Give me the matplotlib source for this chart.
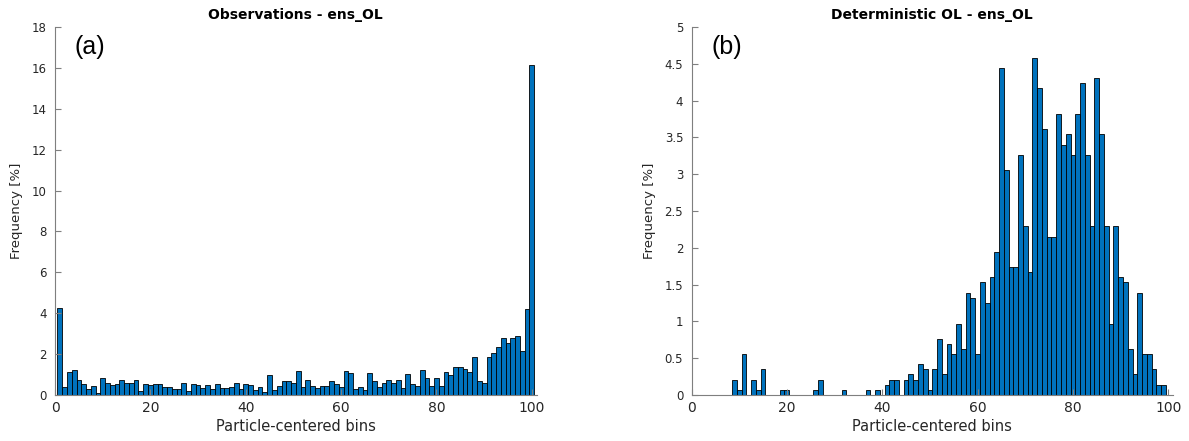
import numpy as np
import matplotlib
matplotlib.use('Agg')
import matplotlib.pyplot as plt

# bin index (1..100)
bins = np.arange(1, 101)

# Observations - ens_OL, frequency [%]
obs_freq = [4.24, 0.41, 1.14, 1.22, 0.73, 0.54, 0.28, 0.46, 0.11, 0.82,
            0.60, 0.47, 0.54, 0.73, 0.60, 0.60, 0.73, 0.18, 0.54, 0.47,
            0.54, 0.54, 0.41, 0.41, 0.28, 0.28, 0.60, 0.18, 0.54, 0.47,
            0.34, 0.47, 0.28, 0.54, 0.34, 0.34, 0.41, 0.59, 0.28, 0.54,
            0.47, 0.24, 0.41, 0.16, 0.96, 0.24, 0.44, 0.67, 0.67, 0.59,
            1.16, 0.41, 0.73, 0.44, 0.33, 0.44, 0.44, 0.67, 0.54, 0.41,
            1.16, 1.09, 0.31, 0.41, 0.24, 1.09, 0.67, 0.41, 0.57, 0.73,
            0.59, 0.73, 0.33, 1.01, 0.52, 0.44, 1.24, 0.82, 0.44, 0.82,
            0.44, 1.14, 0.96, 1.35, 1.35, 1.27, 1.14, 1.84, 0.67, 0.57,
            1.84, 2.07, 2.33, 2.81, 2.56, 2.81, 2.89, 2.17, 4.19, 16.15]

# Deterministic OL - ens_OL, frequency [%]
det_freq = [0, 0, 0, 0, 0, 0, 0, 0, 0.21, 0.07,
            0.56, 0, 0.21, 0.07, 0.35, 0, 0, 0, 0.07, 0.07,
            0, 0, 0, 0, 0, 0.07, 0.21, 0, 0, 0,
            0, 0.07, 0, 0, 0, 0, 0.07, 0, 0.07, 0,
            0.14, 0.21, 0.21, 0, 0.21, 0.28, 0.21, 0.42, 0.35, 0.07,
            0.35, 0.76, 0.28, 0.69, 0.56, 0.97, 0.62, 1.39, 1.32, 0.56,
            1.53, 1.25, 1.60, 1.94, 4.44, 3.06, 1.74, 1.74, 3.26, 2.29,
            1.67, 4.58, 4.17, 3.61, 2.15, 2.15, 3.82, 3.40, 3.54, 3.26,
            3.82, 4.24, 3.26, 2.29, 4.31, 3.54, 2.29, 0.97, 2.29, 1.60,
            1.53, 0.62, 0.28, 1.39, 0.56, 0.56, 0.35, 0.14, 0.14, 0]

titles = ['Observations - ens_OL', 'Deterministic OL - ens_OL']
panel_tags = ['(a)', '(b)']
ylims = [18, 5]
ysteps = [2, 0.5]

axcol = '#7f7f7f'
txtcol = '#262626'

fig = plt.figure(figsize=(11.89, 4.41), dpi=100)
positions = [[0.0463, 0.1043, 0.405, 0.8345],
             [0.5816, 0.1043, 0.405, 0.8345]]

for i, freq in enumerate([obs_freq, det_freq]):
    ax = fig.add_axes(positions[i])
    ax.bar(bins, freq, width=1.0, color='#0072BD', edgecolor='black', linewidth=0.6)
    ax.set_xlim(0, 101)
    ax.set_ylim(0, ylims[i])
    ax.set_xticks([0, 20, 40, 60, 80, 100])
    ax.set_yticks(np.arange(0, ylims[i] + ysteps[i] / 2, ysteps[i]))
    if i == 1:
        ax.set_yticklabels(['0', '0.5', '1', '1.5', '2', '2.5', '3', '3.5', '4', '4.5', '5'])
    for s in ['top', 'right']:
        ax.spines[s].set_visible(False)
    for s in ['left', 'bottom']:
        ax.spines[s].set_color(axcol)
        ax.spines[s].set_linewidth(0.8)
    ax.tick_params(axis='both', direction='in', color=axcol, length=4, width=0.8)
    ax.tick_params(axis='x', labelsize=10, labelcolor=txtcol, pad=4)
    ax.tick_params(axis='y', labelsize=8.5, labelcolor=txtcol, pad=6)
    ax.set_xlabel('Particle-centered bins', fontsize=10.5, color=txtcol, labelpad=3)
    ax.set_ylabel('Frequency [%]', fontsize=9.5, color=txtcol, labelpad=6)
    ax.set_title(titles[i], fontsize=10, fontweight='bold', color='black', pad=6)
    ax.text(0.073, 0.946, panel_tags[i], transform=ax.transAxes, fontsize=18,
            family='Liberation Sans', ha='center', va='center', color='black')

plt.savefig('out.png', dpi=100)
